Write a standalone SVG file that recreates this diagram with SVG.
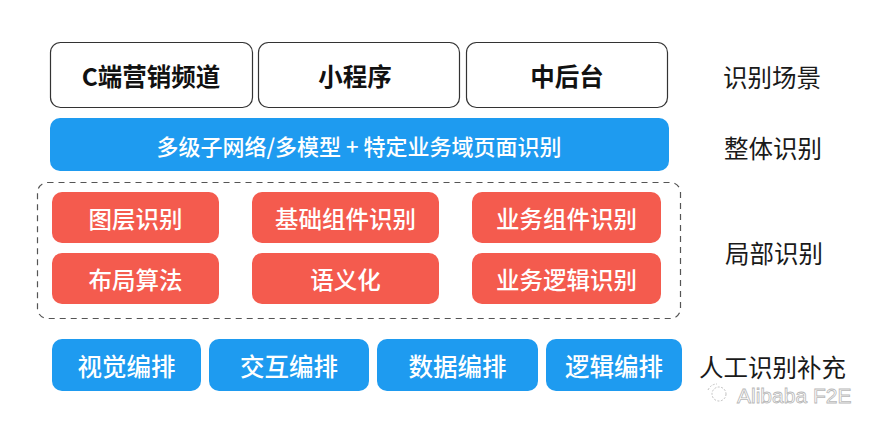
<svg xmlns="http://www.w3.org/2000/svg" width="884" height="432" viewBox="0 0 884 432">
<style>
text{font-family:"Noto Sans CJK SC","Noto Sans",sans-serif;text-anchor:middle;dominant-baseline:central}
.scene{fill:#fff;stroke:#333;stroke-width:1.2}
.scene-t{font-size:24.5px;font-weight:bold;fill:#111}
.blue{fill:#1E9BF0}
.red{fill:#F45B4E}
.wt{fill:#fff;font-size:23.5px;font-weight:500}
.bar{font-size:22px}
.bt{font-size:24.5px}
.lbl{font-size:24.5px;fill:#1a1a1a;text-anchor:start}
</style>
<rect width="884" height="432" fill="#fff"/>
<g id="scene-c"><rect class="scene" x="50.5" y="42.5" width="202" height="65" rx="10"/><text class="scene-t" x="151" y="75">C端营销频道</text></g>
<g id="scene-mini"><rect class="scene" x="258.5" y="42.5" width="201" height="65" rx="10"/><text class="scene-t" x="355" y="75">小程序</text></g>
<g id="scene-mid"><rect class="scene" x="466.5" y="42.5" width="201" height="65" rx="10"/><text class="scene-t" x="567" y="75">中后台</text></g>
<text class="lbl" x="723" y="76">识别场景</text>
<g id="whole"><rect class="blue" x="50" y="118" width="619" height="53" rx="10"/><text class="wt bar" x="359" y="145">多级子网络/多模型 + 特定业务域页面识别</text></g>
<text class="lbl" x="724" y="147">整体识别</text>
<g id="local-group"><rect x="37.5" y="182.5" width="643" height="136" rx="10" fill="none" stroke="#555" stroke-width="1.2" stroke-dasharray="6,5"/></g>
<g id="layer"><rect class="red" x="52" y="192" width="167" height="51" rx="10"/><text class="wt" x="135.5" y="218">图层识别</text></g>
<g id="basic"><rect class="red" x="252" y="192" width="187" height="51" rx="10"/><text class="wt" x="345.5" y="218">基础组件识别</text></g>
<g id="biz-comp"><rect class="red" x="472" y="192" width="189" height="51" rx="10"/><text class="wt" x="566.5" y="218">业务组件识别</text></g>
<g id="layout"><rect class="red" x="52" y="253" width="167" height="51" rx="10"/><text class="wt" x="135.5" y="279">布局算法</text></g>
<g id="semantic"><rect class="red" x="252" y="253" width="187" height="51" rx="10"/><text class="wt" x="345.5" y="279">语义化</text></g>
<g id="biz-logic"><rect class="red" x="472" y="253" width="189" height="51" rx="10"/><text class="wt" x="566.5" y="279">业务逻辑识别</text></g>
<text class="lbl" x="725" y="252">局部识别</text>
<g id="visual"><rect class="blue" x="52" y="339" width="149" height="52" rx="10"/><text class="wt bt" x="126.5" y="365">视觉编排</text></g>
<g id="interact"><rect class="blue" x="209" y="339" width="160" height="52" rx="10"/><text class="wt bt" x="289" y="365">交互编排</text></g>
<g id="data"><rect class="blue" x="377" y="339" width="161" height="52" rx="10"/><text class="wt bt" x="457.5" y="365">数据编排</text></g>
<g id="logic"><rect class="blue" x="546" y="339" width="136" height="52" rx="10"/><text class="wt bt" x="614" y="365">逻辑编排</text></g>
<text class="lbl" x="699" y="366">人工识别补充</text>
<g id="connectors"></g>
<g id="watermark" opacity="0.6">
<circle cx="719" cy="394" r="7" fill="none" stroke="#999" stroke-width="1" stroke-dasharray="2,1.5"/>
<path d="M708 390 q3 -6 9 -6" fill="none" stroke="#999" stroke-width="1" stroke-dasharray="2,1.5"/>
<text x="737" y="395" style="font-family:'Liberation Sans',sans-serif;font-size:21px;fill:#fff;stroke:#888;stroke-width:0.8;text-anchor:start">Alibaba F2E</text>
</g>
</svg>
